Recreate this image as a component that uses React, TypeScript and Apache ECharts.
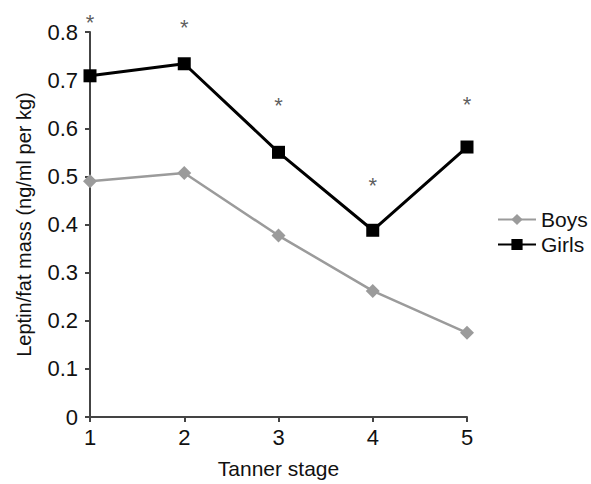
import React, { useEffect, useRef } from "react";
import * as echarts from "echarts";

const stages = [1, 2, 3, 4, 5];
const boys = [0.49, 0.507, 0.377, 0.262, 0.175];
const girls = [0.709, 0.734, 0.55, 0.388, 0.561];
const asteriskY = [0.83, 0.82, 0.657, 0.491, 0.66];
const yTicks = { min: 0, max: 0.8, interval: 0.1 };

const FONT = "'Liberation Sans', Arial, Helvetica, sans-serif";

export default function App() {
  const ref = useRef<HTMLDivElement>(null);
  useEffect(() => {
    if (!ref.current) return;
    const chart = echarts.init(ref.current, undefined, { renderer: "svg" });
    chart.setOption({
      animation: false,
      backgroundColor: "#ffffff",
      textStyle: { fontFamily: FONT },
      grid: { left: 90, right: 124, top: 32, bottom: 64 },
      legend: {
        data: ["Boys", "Girls"],
        orient: "vertical",
        left: 492,
        top: 204,
        itemGap: 4,
        itemWidth: 38,
        itemHeight: 14,
        textStyle: { fontSize: 21, color: "#111", fontFamily: FONT },
      },
      xAxis: {
        type: "value",
        min: 1,
        max: 5,
        interval: 1,
        name: "Tanner stage",
        nameLocation: "middle",
        nameGap: 41,
        nameTextStyle: { fontSize: 21, color: "#111", fontFamily: FONT },
        axisLine: { show: true, lineStyle: { color: "#444", width: 2 } },
        axisTick: { show: true, length: 5, lineStyle: { color: "#444", width: 2 } },
        axisLabel: { fontSize: 22, color: "#111", margin: 9, fontFamily: FONT },
        splitLine: { show: false },
      },
      yAxis: {
        type: "value",
        min: yTicks.min,
        max: yTicks.max,
        interval: yTicks.interval,
        name: "Leptin/fat mass (ng/ml per kg)",
        nameLocation: "middle",
        nameGap: 56,
        nameTextStyle: { fontSize: 20, color: "#111", fontFamily: FONT },
        axisLine: { show: true, lineStyle: { color: "#444", width: 2 } },
        axisTick: { show: true, length: 5, lineStyle: { color: "#444", width: 2 } },
        axisLabel: { fontSize: 22, color: "#111", margin: 12, fontFamily: FONT },
        splitLine: { show: false },
      },
      series: [
        {
          name: "Boys",
          type: "line",
          data: stages.map((s, i) => [s, boys[i]]),
          symbol: "diamond",
          symbolSize: 14,
          itemStyle: { color: "#9b9b9b" },
          lineStyle: { color: "#9b9b9b", width: 2.5 },
          z: 2,
        },
        {
          name: "Girls",
          type: "line",
          data: stages.map((s, i) => [s, girls[i]]),
          symbol: "rect",
          symbolSize: 13,
          itemStyle: { color: "#000" },
          lineStyle: { color: "#000", width: 3 },
          z: 3,
        },
        {
          name: "sig",
          type: "scatter",
          data: stages.map((s, i) => [s, asteriskY[i]]),
          symbolSize: 0,
          silent: true,
          clip: false,
          label: {
            show: true,
            formatter: "*",
            position: "inside",
            fontSize: 22,
            color: "#333",
            offset: [0, 5],
            fontFamily: FONT,
          },
        },
      ],
    });
    return () => chart.dispose();
  }, []);
  return (
    <div
      ref={ref}
      style={{ position: "fixed", left: 0, top: 0, width: 591, height: 484 }}
    />
  );
}
